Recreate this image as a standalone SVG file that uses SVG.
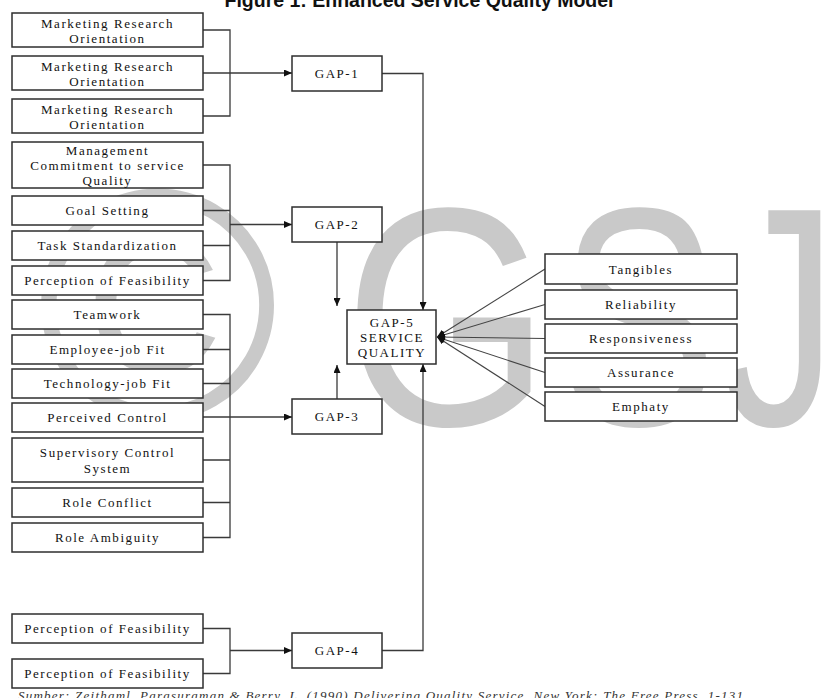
<svg xmlns="http://www.w3.org/2000/svg" width="839" height="698" viewBox="0 0 839 698">
<style>
.box{fill:#fff;stroke:#2e2e2e;stroke-width:1.5}
.lbl{font-family:"Liberation Serif","Times New Roman",serif;font-size:13px;letter-spacing:1.55px;fill:#111;text-anchor:middle;dominant-baseline:central}
.con{stroke:#3a3a3a;stroke-width:1.3;fill:none}
.arr{marker-end:url(#ah)}
.fan{stroke:#444;stroke-width:1.1;fill:none;marker-start:url(#ah)}
.wm{font-family:"Liberation Sans",Arial,sans-serif;fill:#c9c9c9}
.title{font-family:"Liberation Sans",Arial,sans-serif;font-weight:bold;font-size:19.5px;fill:#111;text-anchor:middle}
.src{font-family:"Liberation Serif","Times New Roman",serif;font-style:italic;font-size:13px;fill:#333}
</style>
<defs>
<marker id="ah" viewBox="0 0 8 7" refX="8" refY="3.5" markerWidth="8" markerHeight="7" markerUnits="userSpaceOnUse" orient="auto-start-reverse">
<path d="M0,0 L8,3.5 L0,7 z" fill="#111"/>
</marker>
</defs>
<rect width="839" height="698" fill="#fff"/>
<g id="watermark">
<text class="wm" font-size="330" transform="translate(36,419)">©</text>
<text class="wm" font-size="312" transform="translate(344,425) scale(0.85,1)">G</text>
<text class="wm" font-size="312" transform="translate(559,425) scale(0.76,1)">S</text>
<text class="wm" font-size="312" transform="translate(722,425) scale(0.74,1)">J</text>
</g>
<text class="title" x="419" y="7">Figure 1: Enhanced Service Quality Model</text>
<g id="connectors">
<path class="con" d="M203,30 H230 V116 H203"/>
<path class="con arr" d="M203,73 H292"/>
<path class="con" d="M203,165 H230 V280.5 H203 M203,210.5 H230 M203,245.5 H230"/>
<path class="con arr" d="M230,224.5 H292"/>
<path class="con" d="M203,314.5 H230 V537.5 H203 M203,349.5 H230 M203,383.5 H230 M203,460 H230 M203,502.5 H230"/>
<path class="con arr" d="M203,417 H292"/>
<path class="con" d="M203,628.5 H230 V673.5 H203"/>
<path class="con arr" d="M230,650.5 H292"/>
<path class="con arr" d="M382,73.5 H423 V310"/>
<path class="con arr" d="M337,242 V306"/>
<path class="con arr" d="M337,399 V365"/>
<path class="con arr" d="M382,650.5 H423 V364"/>
<path class="fan" d="M437,337 L545,269"/>
<path class="fan" d="M437,337 L545,304.5"/>
<path class="fan" d="M437,337 L545,338.5"/>
<path class="fan" d="M437,337 L545,372.5"/>
<path class="fan" d="M437,337 L545,406.5"/>
</g>
<g id="n-mro1"><rect class="box" x="12" y="13" width="191" height="34"/><text class="lbl" x="107.5" y="23">Marketing Research</text><text class="lbl" x="107.5" y="38">Orientation</text></g>
<g id="n-mro2"><rect class="box" x="12" y="56" width="191" height="34"/><text class="lbl" x="107.5" y="66">Marketing Research</text><text class="lbl" x="107.5" y="81">Orientation</text></g>
<g id="n-mro3"><rect class="box" x="12" y="99" width="191" height="34"/><text class="lbl" x="107.5" y="109">Marketing Research</text><text class="lbl" x="107.5" y="124">Orientation</text></g>
<g id="n-mgmt"><rect class="box" x="12" y="142" width="191" height="46"/><text class="lbl" x="107.5" y="150">Management</text><text class="lbl" x="107.5" y="165">Commitment to service</text><text class="lbl" x="107.5" y="180">Quality</text></g>
<g id="n-goal"><rect class="box" x="12" y="196" width="191" height="29"/><text class="lbl" x="107.5" y="210.5">Goal Setting</text></g>
<g id="n-task"><rect class="box" x="12" y="231" width="191" height="29"/><text class="lbl" x="107.5" y="245.5">Task Standardization</text></g>
<g id="n-pof1"><rect class="box" x="12" y="266" width="191" height="29"/><text class="lbl" x="107.5" y="280.5">Perception of Feasibility</text></g>
<g id="n-team"><rect class="box" x="12" y="300" width="191" height="29"/><text class="lbl" x="107.5" y="314.5">Teamwork</text></g>
<g id="n-emp"><rect class="box" x="12" y="335" width="191" height="29"/><text class="lbl" x="107.5" y="349.5">Employee-job Fit</text></g>
<g id="n-tech"><rect class="box" x="12" y="369" width="191" height="29"/><text class="lbl" x="107.5" y="383.5">Technology-job Fit</text></g>
<g id="n-perc"><rect class="box" x="12" y="403" width="191" height="29"/><text class="lbl" x="107.5" y="417.5">Perceived Control</text></g>
<g id="n-sup"><rect class="box" x="12" y="438" width="191" height="44"/><text class="lbl" x="107.5" y="452">Supervisory Control</text><text class="lbl" x="107.5" y="468">System</text></g>
<g id="n-rc"><rect class="box" x="12" y="488" width="191" height="29"/><text class="lbl" x="107.5" y="502.5">Role Conflict</text></g>
<g id="n-ra"><rect class="box" x="12" y="523" width="191" height="29"/><text class="lbl" x="107.5" y="537.5">Role Ambiguity</text></g>
<g id="n-pof2"><rect class="box" x="12" y="614" width="191" height="29"/><text class="lbl" x="107.5" y="628.5">Perception of Feasibility</text></g>
<g id="n-pof3"><rect class="box" x="12" y="659" width="191" height="29"/><text class="lbl" x="107.5" y="673.5">Perception of Feasibility</text></g>
<g id="n-gap1"><rect class="box" x="292" y="56" width="90" height="35"/><text class="lbl" x="337" y="73.5">GAP-1</text></g>
<g id="n-gap2"><rect class="box" x="292" y="207" width="90" height="35"/><text class="lbl" x="337" y="224.5">GAP-2</text></g>
<g id="n-gap3"><rect class="box" x="292" y="399" width="90" height="35"/><text class="lbl" x="337" y="416.5">GAP-3</text></g>
<g id="n-gap4"><rect class="box" x="292" y="633" width="90" height="35"/><text class="lbl" x="337" y="650.5">GAP-4</text></g>
<g id="n-gap5"><rect class="box" x="347" y="310" width="89" height="54"/><text class="lbl" x="392" y="322">GAP-5</text><text class="lbl" x="392" y="337">SERVICE</text><text class="lbl" x="392" y="352">QUALITY</text></g>
<g id="n-tang"><rect class="box" x="545" y="254" width="192" height="30"/><text class="lbl" x="641" y="269">Tangibles</text></g>
<g id="n-rel"><rect class="box" x="545" y="290" width="192" height="29"/><text class="lbl" x="641" y="304.5">Reliability</text></g>
<g id="n-resp"><rect class="box" x="545" y="324" width="192" height="29"/><text class="lbl" x="641" y="338.5">Responsiveness</text></g>
<g id="n-ass"><rect class="box" x="545" y="358" width="192" height="29"/><text class="lbl" x="641" y="372.5">Assurance</text></g>
<g id="n-emph"><rect class="box" x="545" y="392" width="192" height="29"/><text class="lbl" x="641" y="406.5">Emphaty</text></g>
<text class="src" x="18" y="700" textLength="725" lengthAdjust="spacing">Sumber: Zeithaml, Parasuraman &amp; Berry, L. (1990) Delivering Quality Service. New York: The Free Press, 1-131</text>
</svg>
